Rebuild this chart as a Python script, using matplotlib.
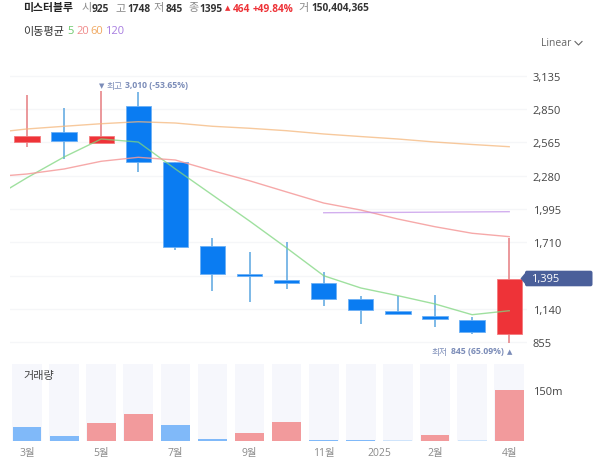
import matplotlib
matplotlib.use("Agg")
import matplotlib.pyplot as plt
from matplotlib.lines import Line2D
from matplotlib.patches import FancyBboxPatch, Polygon
from matplotlib.transforms import IdentityTransform

plt.rcParams["font.family"] = ["Open Sans", "Noto Sans CJK KR", "DejaVu Sans"]

W, H = 600, 464

# monthly candles, 2024-03 to 2025-04
opens = [2567, 2652, 2558, 2875, 2400, 1675, 1440, 1386, 1358, 1224, 1118, 1080, 1043, 925]
closes = [2623, 2580, 2618, 2400, 1667, 1440, 1418, 1358, 1224, 1132, 1095, 1050, 938, 1395]
highs = [2972, 2858, 3010, 3000, 2400, 1746, 1624, 1710, 1458, 1247, 1252, 1258, 1072, 1748]
lows = [2529, 2423, 2558, 2310, 1646, 1292, 1198, 1309, 1161, 1009, 1095, 981, 925, 845]
volumes = [40, 16, 52, 80, 46, 6, 24, 57, 3, 3, 2, 19, 2, 150.4]
# volume bar direction is not the same as the candle direction
volume_kind = ["down", "down", "up", "up", "down", "down", "up", "up", "down", "down", "flat", "up", "flat", "up"]

# moving averages, first point sits just off the left edge
ma_x = [-1, 0, 1, 2, 3, 4, 5, 6, 7, 8, 9, 10, 11, 12, 13]
ma5 = [2072, 2263, 2441, 2595, 2569, 2338, 2115, 1892, 1661, 1423, 1318, 1252, 1181, 1089, 1123]
ma20 = [2269, 2295, 2338, 2404, 2438, 2415, 2323, 2237, 2141, 2046, 1986, 1909, 1843, 1787, 1758]
ma60 = [2646, 2681, 2704, 2726, 2743, 2732, 2704, 2687, 2666, 2638, 2616, 2595, 2569, 2548, 2529]
ma120_x = [8, 9, 10, 11, 12, 13]
ma120 = [1963, 1965, 1966, 1968, 1970, 1972]

# 1,395 is shown in the price tag instead of a plain tick label
price_ticks = [855, 1140, 1710, 1995, 2280, 2565, 2850, 3135]
price_grid = [855, 1140, 1425, 1710, 1995, 2280, 2565, 2850, 3135]
month_pos = [0, 2, 4, 6, 8, 9.5, 11, 13]
month_labels = ["3월", "5월", "7월", "9월", "11월", "2025", "2월", "4월"]

BLUE = "#0a7cf2"
RED = "#ee3338"
BLUE_WICK = "#5aa5e0"
RED_WICK = "#e57c80"
GRID = "#f5f6f8"
DARK = "#333333"
GRAY = "#8a8a8a"
SLATE = "#7b8cb8"
TAG = "#4a5f9a"
VOL_COLORS = {"up": "#f29a9c", "down": "#80b9f9", "flat": "#cfe4fb"}


def add_axes_px(fig, left, top, right, bottom):
    return fig.add_axes([left / W, 1 - bottom / H, (right - left) / W, (bottom - top) / H])


def text_px(fig, x, y, s, **kw):
    kw.setdefault("fontsize", 8)
    kw.setdefault("color", DARK)
    kw.setdefault("va", "center")
    fig.text(x / W, 1 - y / H, s, **kw)


fig = plt.figure(figsize=(W / 100, H / 100), dpi=100, facecolor="white")

# price panel
ax = add_axes_px(fig, 10, 60, 527, 350)
xlim = (-0.458, 13.48)
ax.set_xlim(xlim)
ax.set_ylim(855 - 7 * 8.571, 3135 + 17 * 8.571)
for y in price_grid:
    ax.axhline(y, color=GRID, lw=1, zorder=0)

for i in range(len(opens)):
    up = closes[i] >= opens[i]
    ax.vlines(i, lows[i], highs[i], color=RED_WICK if up else BLUE_WICK, lw=1.1, zorder=2)
    ax.bar(
        i,
        abs(closes[i] - opens[i]),
        bottom=min(opens[i], closes[i]),
        width=0.68,
        color=RED if up else BLUE,
        edgecolor="#f4797c" if up else "#6db0f5",
        lw=0.6,
        zorder=3,
    )

ax.plot(ma_x, ma5, color="#7fd67f", alpha=0.75, lw=1, zorder=4)
ax.plot(ma_x, ma20, color="#f59a9a", alpha=0.85, lw=1, zorder=4)
ax.plot(ma_x, ma60, color="#f5b77c", alpha=0.75, lw=1, zorder=4)
ax.plot(ma120_x, ma120, color="#c08ee8", alpha=0.7, lw=1, zorder=4)

ax.set_xticks([])
ax.yaxis.tick_right()
ax.set_yticks(price_ticks)
ax.set_yticklabels([f"{v:,}" for v in price_ticks], fontsize=8, color="#444444")
ax.tick_params(axis="y", length=0, pad=4)
for s in ax.spines.values():
    s.set_visible(False)
ax.patch.set_alpha(0)

# volume panel
vax = add_axes_px(fig, 10, 365, 527, 442)
vax.set_xlim(xlim)
vax.set_ylim(0, 227)
for i, v in enumerate(volumes):
    vax.bar(i, 227, width=0.8, color="#f6f7fc", zorder=1)
    vax.bar(i, v, width=0.78, color=VOL_COLORS[volume_kind[i]], zorder=2)
vax.yaxis.tick_right()
vax.set_yticks([150])
vax.set_yticklabels(["150m"], fontsize=8, color="#444444")
vax.set_xticks(month_pos)
vax.set_xticklabels(month_labels, fontsize=7.5, color=GRAY)
vax.tick_params(axis="both", length=0)
vax.tick_params(axis="y", pad=4)
vax.tick_params(axis="x", pad=4)
for s in vax.spines.values():
    s.set_visible(False)

# header
text_px(fig, 23, 9, "미스터블루", fontweight="bold", color="#222222", fontsize=7.8)
header = [
    (81, "시", GRAY, "normal"), (92, "925", DARK, "bold"),
    (115, "고", GRAY, "normal"), (127, "1748", DARK, "bold"),
    (154, "저", GRAY, "normal"), (166, "845", DARK, "bold"),
    (188, "종", GRAY, "normal"), (199, "1395", DARK, "bold"),
    (233, "464", RED, "bold"), (253, "+49.84%", RED, "bold"),
    (298, "거", GRAY, "normal"), (311, "150,404,365", DARK, "bold"),
]
for x, s, c, w in header:
    text_px(fig, x, 9, s, color=c, fontweight=w, fontsize=7.3 if w == "bold" else 8)
text_px(fig, 225, 8, "▲", color=RED, fontsize=5, family=["DejaVu Sans"])

text_px(fig, 23, 33, "이동평균")
for x, s, c in [(67, "5", "#6dc96d"), (76, "20", "#f08a8a"), (90, "60", "#f0a860"), (105, "120", "#a77ce0")]:
    text_px(fig, x, 31.5, s, color=c)

text_px(fig, 541, 43, "Linear", fontsize=7.5, color="#666666")
fig.add_artist(Line2D(
    [575 / W, 578.5 / W, 582 / W],
    [1 - 42.5 / H, 1 - 46 / H, 1 - 42.5 / H],
    color="#666666", lw=0.8,
))

# high / low labels
text_px(fig, 99, 86, "▼", color=SLATE, fontsize=5, family=["DejaVu Sans"])
text_px(fig, 107, 87, "최고", color=SLATE, fontsize=6.3)
text_px(fig, 125, 86, "3,010 (-53.65%)", color=SLATE, fontsize=6.2, fontweight="bold")
text_px(fig, 432, 353, "최저", color=SLATE, fontsize=6.3)
text_px(fig, 451, 352, "845 (65.09%)", color=SLATE, fontsize=6.2, fontweight="bold")
text_px(fig, 507, 352, "▲", color=SLATE, fontsize=5, family=["DejaVu Sans"])

text_px(fig, 23, 377, "거래량", color="#444444")

# current price tag
fig.add_artist(FancyBboxPatch(
    (525, H - 287.3), 67.5, 15.6, boxstyle="round,pad=0,rounding_size=2",
    transform=IdentityTransform(), facecolor=TAG, edgecolor="none",
))
fig.add_artist(Polygon(
    [(527, H - 287.3), (527, H - 271.7), (520.5, H - 279.5)],
    closed=True, transform=IdentityTransform(), facecolor=TAG, edgecolor="none",
))
text_px(fig, 531, 279.5, "1,395", color="white", fontsize=8)

fig.savefig("out.png", dpi=100)
